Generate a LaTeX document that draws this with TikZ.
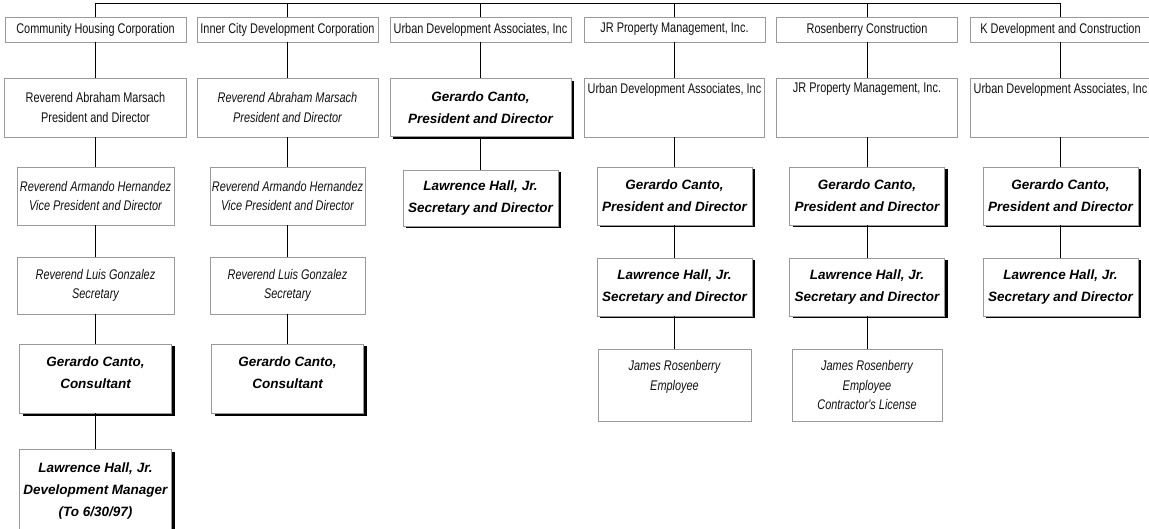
\documentclass[tikz,border=0pt]{standalone}
\usepackage{fontspec}
\usetikzlibrary{shadows}
\newfontfamily\regfont{Liberation Sans}[FakeStretch=0.78]
\newfontfamily\bfont{Liberation Sans}
\definecolor{boxgray}{HTML}{9A9A9A}
\definecolor{txt}{HTML}{111111}
\tikzset{
  x=1pt, y=-1pt,
  plainbox/.style={draw=boxgray, line width=0.8pt, fill=white, inner sep=0pt, align=center,
    text=txt, font=\regfont\fontsize{14}{19.5}\selectfont},
  italbox/.style={plainbox, font=\regfont\itshape\fontsize{14}{19.5}\selectfont},
  boldbox/.style={draw=boxgray, line width=0.8pt, fill=white, inner sep=0pt, align=center,
    text=black, font=\bfont\bfseries\itshape\fontsize{13.5}{22}\selectfont,
    general shadow={fill=black, shadow xshift=3pt, shadow yshift=-2.5pt}},
  conn/.style={draw=black, line width=0.9pt},
}
\begin{document}
\begin{tikzpicture}
\useasboundingbox (0,0) rectangle (1149,529);
% top row
\node[plainbox, minimum width=181pt, minimum height=25pt] (t1) at (95.5,29.5) {Community Housing Corporation};
\node[plainbox, minimum width=181pt, minimum height=25pt] (t2) at (287.5,29.5) {Inner City Development Corporation};
\node[plainbox, minimum width=181pt, minimum height=25pt] (t3) at (480.5,29.5) {Urban Development Associates, Inc};
\node[plainbox, minimum width=181pt, minimum height=25pt] (t4) at (674.5,29.5) {JR Property Management, Inc.};
\node[plainbox, minimum width=181pt, minimum height=25pt] (t5) at (867,29.5) {Rosenberry Construction};
\node[plainbox, minimum width=181pt, minimum height=25pt] (t6) at (1060.5,29.5) {K Development and Construction};
% bus
\coordinate (bus) at (0,3);
\draw[conn] (t1.north) -- (t1.north |- bus) -- (t6.north |- bus) -- (t6.north);
\foreach \n in {t2,t3,t4,t5} \draw[conn] (\n.north) -- (\n.north |- bus);
% row 2
\node[plainbox, minimum width=182pt, minimum height=59pt] (a2) at (95.5,107.5) {Reverend Abraham Marsach\\President and Director};
\node[italbox, minimum width=181pt, minimum height=59pt] (b2) at (287.5,107.5) {Reverend Abraham Marsach\\President and Director};
\node[boldbox, minimum width=181pt, minimum height=58pt] (c2) at (480.5,107.5) {Gerardo Canto,\\President and Director};
\node[plainbox, minimum width=180pt, minimum height=59pt] (d2) at (674.5,107.5) {Urban Development Associates, Inc\\\mbox{}\\\mbox{}};
\node[plainbox, minimum width=181pt, minimum height=59pt] (e2) at (867,107.5) {JR Property Management, Inc.\\\mbox{}\\\mbox{}};
\node[plainbox, minimum width=180pt, minimum height=59pt] (f2) at (1060.5,107.5) {Urban Development Associates, Inc\\\mbox{}\\\mbox{}};
% column 1
\node[italbox, minimum width=157pt, minimum height=58pt] (a3) at (95.5,196) {Reverend Armando Hernandez\\Vice President and Director};
\node[italbox, minimum width=157pt, minimum height=57pt] (a4) at (95.5,285.5) {Reverend Luis Gonzalez\\Secretary};
\node[boldbox, minimum width=152pt, minimum height=69pt] (a5) at (95.5,378.5) {Gerardo Canto,\\Consultant\\[-11pt]};
\node[boldbox, minimum width=152pt, minimum height=84pt] (a6) at (95.5,491) {Lawrence Hall, Jr.\\Development Manager\\(To 6/30/97)};
% column 2
\node[italbox, minimum width=155pt, minimum height=58pt] (b3) at (287.5,196) {Reverend Armando Hernandez\\Vice President and Director};
\node[italbox, minimum width=155pt, minimum height=57pt] (b4) at (287.5,285.5) {Reverend Luis Gonzalez\\Secretary};
\node[boldbox, minimum width=152pt, minimum height=69pt] (b5) at (287.5,378.5) {Gerardo Canto,\\Consultant\\[-11pt]};
% column 3
\node[boldbox, minimum width=155pt, minimum height=56pt] (c3) at (480.5,198) {Lawrence Hall, Jr.\\Secretary and Director};
% column 4
\node[boldbox, minimum width=155pt, minimum height=58pt] (d3) at (674.5,196) {Gerardo Canto,\\President and Director};
\node[boldbox, minimum width=155pt, minimum height=58pt] (d4) at (674.5,287) {Lawrence Hall, Jr.\\Secretary and Director};
\node[italbox, minimum width=153pt, minimum height=72pt] (d5) at (674.5,385) {James Rosenberry\\Employee\\\mbox{}};
% column 5
\node[boldbox, minimum width=155pt, minimum height=58pt] (e3) at (867,196) {Gerardo Canto,\\President and Director};
\node[boldbox, minimum width=155pt, minimum height=58pt] (e4) at (867,287) {Lawrence Hall, Jr.\\Secretary and Director};
\node[italbox, minimum width=150pt, minimum height=72pt] (e5) at (867,385) {James Rosenberry\\Employee\\Contractor's License};
% column 6
\node[boldbox, minimum width=155pt, minimum height=58pt] (f3) at (1060.5,196) {Gerardo Canto,\\President and Director};
\node[boldbox, minimum width=155pt, minimum height=58pt] (f4) at (1060.5,287) {Lawrence Hall, Jr.\\Secretary and Director};
% connectors
\draw[conn] (t1.south) -- (a2.north);
\draw[conn] (a2.south) -- (a3.north);
\draw[conn] (a3.south) -- (a4.north);
\draw[conn] (a4.south) -- (a5.north);
\draw[conn] (a5.south) -- (a6.north);
\draw[conn] (t2.south) -- (b2.north);
\draw[conn] (b2.south) -- (b3.north);
\draw[conn] (b3.south) -- (b4.north);
\draw[conn] (b4.south) -- (b5.north);
\draw[conn] (t3.south) -- (c2.north);
\draw[conn] (c2.south) -- (c3.north);
\draw[conn] (t4.south) -- (d2.north);
\draw[conn] (d2.south) -- (d3.north);
\draw[conn] (d3.south) -- (d4.north);
\draw[conn] (d4.south) -- (d5.north);
\draw[conn] (t5.south) -- (e2.north);
\draw[conn] (e2.south) -- (e3.north);
\draw[conn] (e3.south) -- (e4.north);
\draw[conn] (e4.south) -- (e5.north);
\draw[conn] (t6.south) -- (f2.north);
\draw[conn] (f2.south) -- (f3.north);
\draw[conn] (f3.south) -- (f4.north);
\end{tikzpicture}
\end{document}
